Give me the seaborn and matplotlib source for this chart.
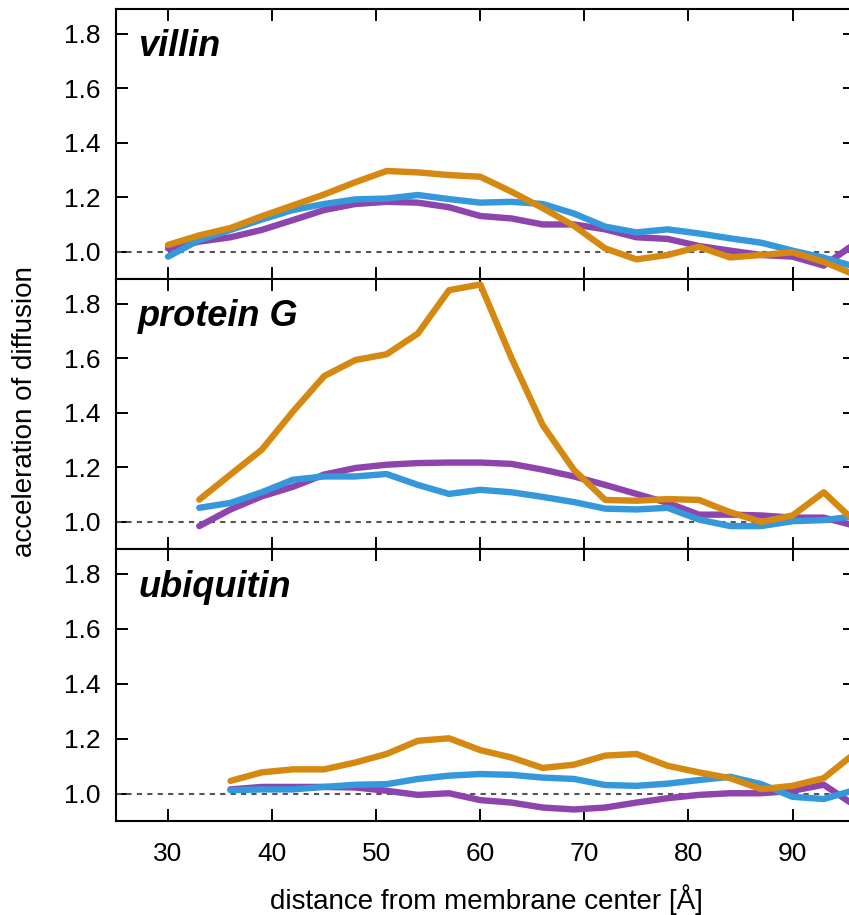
import numpy as np
import pandas as pd
import matplotlib
matplotlib.use("Agg")
import matplotlib.pyplot as plt
import seaborn as sns

# ---------------- data ----------------
panel_names = ["villin", "protein G", "ubiquitin"]
series_names = ["purple", "blue", "orange"]
series_colors = ["#8E44AD", "#3498DB", "#D68910"]

villin_x = [30, 33, 36, 39, 42, 45, 48, 51, 54, 57, 60, 63, 66, 69, 72, 75, 78, 81, 84, 87, 90, 93, 96]
villin_orange = [1.025, 1.06, 1.087, 1.13, 1.17, 1.21, 1.255, 1.296, 1.291, 1.281, 1.275, 1.22, 1.16,
                 1.095, 1.012, 0.972, 0.988, 1.018, 0.979, 0.988, 0.998, 0.963, 0.915]
villin_blue = [0.982, 1.043, 1.08, 1.118, 1.153, 1.175, 1.192, 1.195, 1.208, 1.193, 1.18, 1.183, 1.175,
               1.14, 1.092, 1.071, 1.082, 1.067, 1.049, 1.033, 1.004, 0.978, 0.945]
villin_purple = [1.012, 1.037, 1.053, 1.08, 1.116, 1.153, 1.175, 1.183, 1.18, 1.163, 1.131, 1.122, 1.10,
                 1.10, 1.082, 1.053, 1.047, 1.021, 1.004, 0.988, 0.982, 0.949, 1.03]

proteinG_x = [33, 36, 39, 42, 45, 48, 51, 54, 57, 60, 63, 66, 69, 72, 75, 78, 81, 84, 87, 90, 93, 96]
proteinG_orange = [1.081, 1.173, 1.264, 1.404, 1.534, 1.593, 1.614, 1.69, 1.849, 1.87, 1.60, 1.354,
                   1.19, 1.08, 1.077, 1.083, 1.08, 1.035, 0.999, 1.023, 1.108, 1.0]
proteinG_blue = [1.051, 1.069, 1.108, 1.154, 1.166, 1.166, 1.175, 1.135, 1.102, 1.117, 1.108, 1.091,
                 1.072, 1.048, 1.045, 1.051, 1.008, 0.984, 0.984, 1.002, 1.006, 1.02]
proteinG_purple = [0.984, 1.045, 1.093, 1.128, 1.173, 1.197, 1.209, 1.215, 1.217, 1.217, 1.212, 1.191,
                   1.166, 1.135, 1.102, 1.069, 1.026, 1.026, 1.023, 1.015, 1.015, 0.985]

ubiquitin_x = [36, 39, 42, 45, 48, 51, 54, 57, 60, 63, 66, 69, 72, 75, 78, 81, 84, 87, 90, 93, 96]
ubiquitin_orange = [1.046, 1.077, 1.088, 1.088, 1.113, 1.144, 1.192, 1.201, 1.158, 1.131, 1.093, 1.105,
                    1.138, 1.144, 1.101, 1.077, 1.056, 1.016, 1.028, 1.056, 1.147]
ubiquitin_blue = [1.012, 1.015, 1.015, 1.024, 1.032, 1.034, 1.053, 1.065, 1.071, 1.068, 1.058, 1.053,
                  1.031, 1.028, 1.036, 1.049, 1.061, 1.034, 0.988, 0.98, 1.013]
ubiquitin_purple = [1.015, 1.024, 1.024, 1.024, 1.022, 1.01, 0.995, 1.001, 0.976, 0.967, 0.949, 0.942,
                    0.949, 0.967, 0.983, 0.995, 1.001, 1.001, 1.01, 1.032, 0.956]

x_ticks = [30, 40, 50, 60, 70, 80, 90]
y_ticks = [1.0, 1.2, 1.4, 1.6, 1.8]
x_label = "distance from membrane center [Å]"
y_label = "acceleration of diffusion"

panels = [
    (villin_x, {"purple": villin_purple, "blue": villin_blue, "orange": villin_orange}),
    (proteinG_x, {"purple": proteinG_purple, "blue": proteinG_blue, "orange": proteinG_orange}),
    (ubiquitin_x, {"purple": ubiquitin_purple, "blue": ubiquitin_blue, "orange": ubiquitin_orange}),
]

# ---------------- style ----------------
sns.set_theme(style="white")
plt.rcParams['font.family'] = ['Liberation Sans', 'DejaVu Sans']
plt.rcParams['text.color'] = 'black'
plt.rcParams['axes.labelcolor'] = 'black'

W_PX, H_PX = 849, 915
fig = plt.figure(figsize=(W_PX / 100, H_PX / 100), dpi=100)

left_px, right_px = 116, 855
tops_px = [9, 279, 549]
bots_px = [279, 549, 821]

for i, (name, (xs, ser)) in enumerate(zip(panel_names, panels)):
    ax = fig.add_axes([left_px / W_PX, 1 - bots_px[i] / H_PX,
                       (right_px - left_px) / W_PX, (bots_px[i] - tops_px[i]) / H_PX])
    rows = []
    for s in series_names:
        for xv, yv in zip(xs, ser[s]):
            rows.append({"x": xv, "y": yv, "series": s})
    df = pd.DataFrame(rows)
    ax.axhline(1.0, color="#555555", lw=1.5, ls=(0, (2.5, 2.5)), zorder=1)
    sns.lineplot(data=df, x="x", y="y", hue="series", hue_order=series_names,
                 palette=series_colors, lw=4.6, legend=False, ax=ax,
                 estimator=None, sort=False, zorder=2)
    ax.set_xlim(25, 96)
    ax.set_ylim(0.9, 1.89)
    ax.set_xticks(x_ticks)
    ax.set_yticks(y_ticks)
    ax.set_yticklabels([f"{v:.1f}" for v in y_ticks])
    if i < 2:
        ax.set_xticklabels([])
    else:
        ax.set_xticklabels([str(v) for v in x_ticks])
    ax.set_xlabel("")
    ax.set_ylabel("")
    ax.tick_params(axis="both", which="major", direction="in", length=8.5, width=1.4,
                   color="black", labelcolor="black", labelsize=19,
                   top=True, right=True, bottom=True, left=True)
    ax.tick_params(axis="y", pad=11)
    ax.tick_params(axis="x", pad=15)
    for sp in ax.spines.values():
        sp.set_color("black")
        sp.set_linewidth(1.5)
        sp.set_visible(True)
    ax.text(0.03, 0.825, name, transform=ax.transAxes, fontsize=26,
            fontweight="bold", fontstyle="italic", ha="left", va="baseline")

fig.text(486 / W_PX, 1 - 900 / H_PX, x_label, ha="center", va="center", fontsize=20)
fig.text(25 / W_PX, 1 - 412 / H_PX, y_label, ha="center", va="center", rotation=90, fontsize=20)

fig.savefig("out.png", dpi=100)
